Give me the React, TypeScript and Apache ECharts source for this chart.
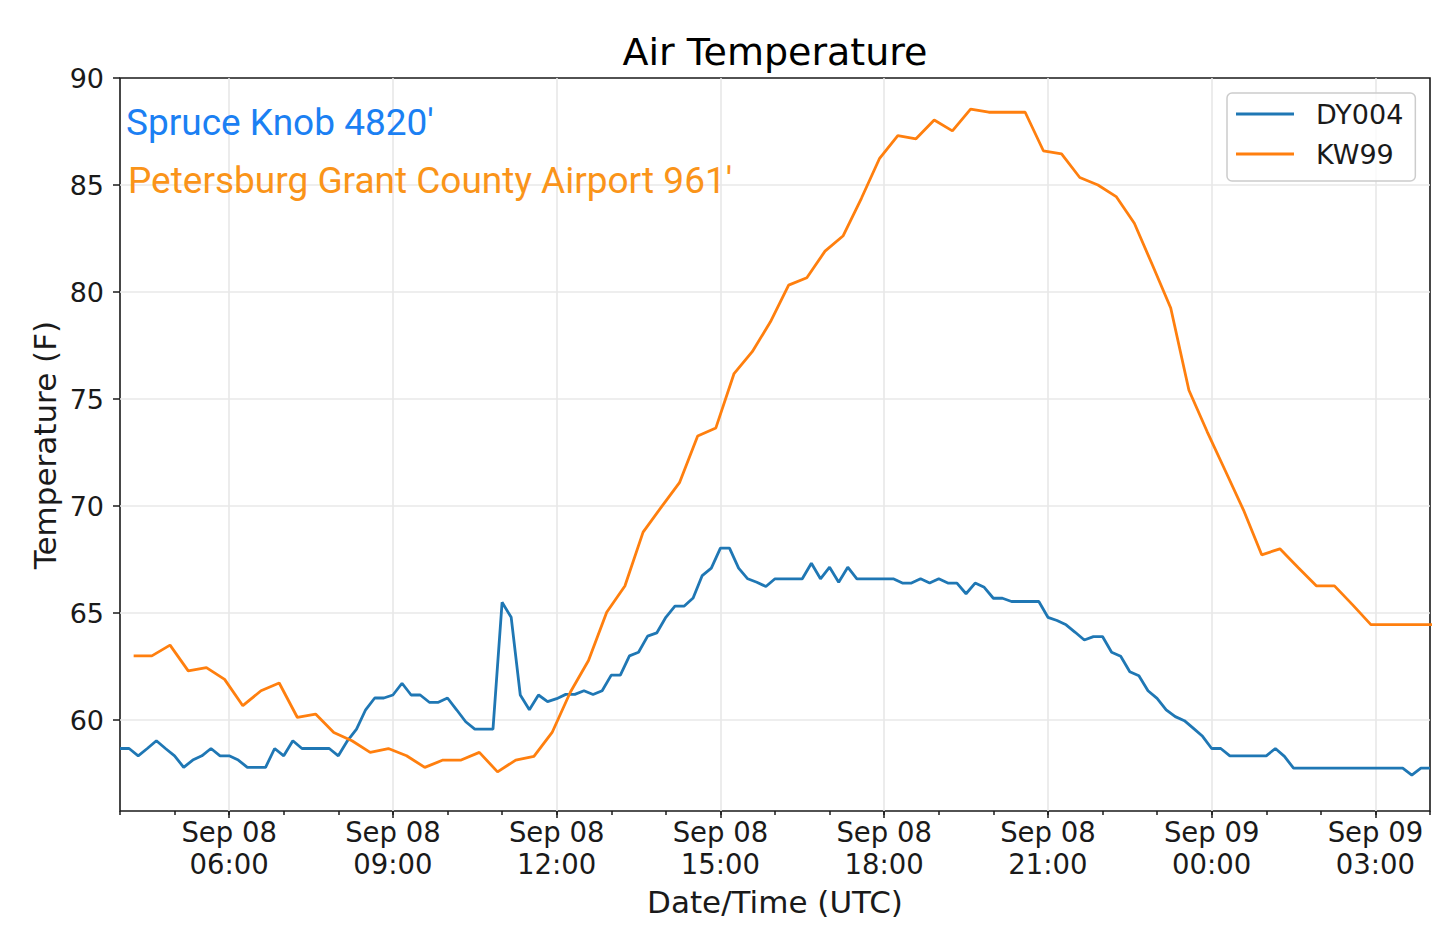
import React, { useEffect, useRef } from "react";
import * as echarts from "echarts";

// time axis is in hours after Sep 08 00:00 UTC
const X_MIN = 4;
const X_MAX = 28;
const Y_MIN = 55.75;
const Y_MAX = 90;

// DY004 (Spruce Knob), one reading every 10 min from Sep 08 04:00
const DY004_START = 4;
const DY004_STEP = 1 / 6;
const DY004_TEMPS = [
  58.67, 58.67, 58.33, 58.67, 59.03, 58.67, 58.33, 57.79, 58.13, 58.33,
  58.67, 58.33, 58.33, 58.13, 57.79, 57.79, 57.79, 58.67, 58.33, 59.03,
  58.67, 58.67, 58.67, 58.67, 58.33, 59.03, 59.58, 60.48, 61.03, 61.03,
  61.17, 61.72, 61.17, 61.17, 60.83, 60.83, 61.03, 60.48, 59.92, 59.58,
  59.58, 59.58, 65.5, 64.8, 61.17, 60.48, 61.17, 60.86, 61.0, 61.2,
  61.2, 61.37, 61.19, 61.37, 62.1, 62.1, 63.0, 63.17, 63.92, 64.07,
  64.8, 65.32, 65.32, 65.7, 66.75, 67.1, 68.03, 68.03, 67.1, 66.6,
  66.44, 66.24, 66.6, 66.6, 66.6, 66.6, 67.33, 66.6, 67.14, 66.44,
  67.14, 66.6, 66.6, 66.6, 66.6, 66.6, 66.4, 66.4, 66.6, 66.4,
  66.6, 66.4, 66.4, 65.9, 66.4, 66.2, 65.69, 65.69, 65.54, 65.54,
  65.54, 65.54, 64.8, 64.65, 64.45, 64.1, 63.74, 63.9, 63.9, 63.17,
  62.98, 62.26, 62.07, 61.37, 61.01, 60.48, 60.16, 59.97, 59.61, 59.24,
  58.67, 58.67, 58.33, 58.33, 58.33, 58.33, 58.33, 58.67, 58.3, 57.75,
  57.75, 57.75, 57.75, 57.75, 57.75, 57.75, 57.75, 57.75, 57.75, 57.75,
  57.75, 57.75, 57.43, 57.75, 57.75,
];

// KW99 (Petersburg airport), one report every 20 min from Sep 08 04:15
const KW99_START = 4.25;
const KW99_STEP = 1 / 3;
const KW99_TEMPS = [
  63.0, 63.0, 63.5, 62.3, 62.45, 61.9, 60.67, 61.37, 61.73, 60.12,
  60.28, 59.42, 59.03, 58.49, 58.67, 58.33, 57.79, 58.13, 58.13, 58.49,
  57.58, 58.13, 58.3, 59.42, 61.3, 62.78, 65.04, 66.26, 68.78, 69.95,
  71.09, 73.27, 73.65, 76.19, 77.21, 78.61, 80.32, 80.67, 81.91, 82.63,
  84.38, 86.25, 87.31, 87.16, 88.04, 87.53, 88.55, 88.4, 88.4, 88.4,
  86.6, 86.45, 85.35, 85.0, 84.46, 83.21, 81.25, 79.25, 75.41, 73.48,
  71.65, 69.81, 67.72, 68.0, 67.13, 66.27, 66.27, 65.38, 64.46, 64.46,
  64.46, 64.46, 64.46,
];

const X_TICKS = [6, 9, 12, 15, 18, 21, 24, 27];
const X_TICK_LABELS = [
  "Sep 08\n06:00", "Sep 08\n09:00", "Sep 08\n12:00", "Sep 08\n15:00",
  "Sep 08\n18:00", "Sep 08\n21:00", "Sep 09\n00:00", "Sep 09\n03:00",
];

const SERIES_NAMES = ["DY004", "KW99"];
const SERIES_COLORS = ["#1f77b4", "#ff7f0e"];

const MPL_FONT = "'DejaVu Sans', sans-serif";
const NOTE_FONT = "Roboto, 'Noto Sans', sans-serif";
const INK = "#1a1a1a";
const GRID_COLOR = "#e8e8e8";

// plot frame in page pixels
const PLOT_L = 120;
const PLOT_T = 78;
const PLOT_W = 1310;
const PLOT_H = 733;

export default function App() {
  const chartRef = useRef<HTMLDivElement>(null);

  useEffect(() => {
    if (!chartRef.current) return;
    const chart = echarts.init(chartRef.current, null, { renderer: "svg" });

    const pxPerHour = PLOT_W / (X_MAX - X_MIN);
    const pxPerDeg = PLOT_H / (Y_MAX - Y_MIN);
    const xMajorMin = X_TICKS[0];
    const xMajorMax = X_TICKS[X_TICKS.length - 1];

    const dyData = DY004_TEMPS.map((v, i) => [DY004_START + i * DY004_STEP, v]);
    const kwData = KW99_TEMPS.map((v, i) => [KW99_START + i * KW99_STEP, v]);

    const tickLine = { color: INK, width: 1.5 };

    chart.setOption({
      animation: false,
      backgroundColor: "#ffffff",
      grid: [
        {
          left: PLOT_L, top: PLOT_T, width: PLOT_W, height: PLOT_H,
          show: true, borderColor: INK, borderWidth: 1.6,
          backgroundColor: "rgba(0,0,0,0)",
        },
        // major x ticks + vertical grid lines
        {
          left: PLOT_L + (xMajorMin - X_MIN) * pxPerHour, top: PLOT_T,
          width: (xMajorMax - xMajorMin) * pxPerHour, height: PLOT_H,
        },
        // y ticks + horizontal grid lines (60..90)
        {
          left: PLOT_L, top: PLOT_T, width: PLOT_W,
          height: (Y_MAX - 60) * pxPerDeg,
        },
      ],
      xAxis: [
        {
          gridIndex: 0, type: "value", min: X_MIN, max: X_MAX, interval: 1,
          axisLine: { show: false },
          axisTick: { show: true, length: 4, lineStyle: tickLine },
          axisLabel: { show: false },
          splitLine: { show: false },
        },
        {
          gridIndex: 1, type: "value", min: xMajorMin, max: xMajorMax, interval: 3,
          axisLine: { show: false },
          axisTick: { show: true, length: 7, lineStyle: tickLine },
          axisLabel: {
            show: true,
            showMinLabel: true,
            showMaxLabel: true,
            formatter: (v: number) => {
              const i = X_TICKS.indexOf(Math.round(v));
              return i >= 0 ? X_TICK_LABELS[i] : "";
            },
            fontFamily: MPL_FONT, fontSize: 27.5, lineHeight: 32,
            color: INK, margin: 5,
          },
          splitLine: { show: true, lineStyle: { color: GRID_COLOR, width: 1.6 } },
        },
        { gridIndex: 2, type: "value", min: 0, max: 1, show: false },
      ],
      yAxis: [
        {
          gridIndex: 0, type: "value", min: Y_MIN, max: Y_MAX,
          axisLine: { show: false }, axisTick: { show: false },
          axisLabel: { show: false }, splitLine: { show: false },
        },
        { gridIndex: 1, type: "value", min: 0, max: 1, show: false },
        {
          gridIndex: 2, type: "value", min: 60, max: Y_MAX, interval: 5,
          axisLine: { show: false },
          axisTick: { show: true, length: 7, lineStyle: tickLine },
          axisLabel: {
            show: true, showMinLabel: true, showMaxLabel: true,
            fontFamily: MPL_FONT, fontSize: 27, color: INK, margin: 16,
          },
          splitLine: {
            show: true, showMaxLine: false,
            lineStyle: { color: GRID_COLOR, width: 1.6 },
          },
        },
      ],
      legend: {
        data: SERIES_NAMES,
        orient: "vertical",
        left: 1227,
        top: 93,
        icon: "rect",
        itemWidth: 58,
        itemHeight: 2.8,
        itemGap: 10,
        padding: [6, 12, 12, 9],
        backgroundColor: "rgba(255,255,255,0.8)",
        borderColor: "#cccccc",
        borderWidth: 1.5,
        borderRadius: 5,
        selectedMode: false,
        textStyle: {
          fontFamily: MPL_FONT, fontSize: 27, color: INK,
          lineHeight: 30, padding: [0, 0, 0, 17],
        },
      },
      series: [
        {
          name: SERIES_NAMES[0], type: "line", data: dyData,
          xAxisIndex: 0, yAxisIndex: 0,
          symbol: "none", showSymbol: false, clip: true,
          color: SERIES_COLORS[0],
          lineStyle: { color: SERIES_COLORS[0], width: 2.8 },
          z: 3,
        },
        {
          name: SERIES_NAMES[1], type: "line", data: kwData,
          xAxisIndex: 0, yAxisIndex: 0,
          symbol: "none", showSymbol: false, clip: true,
          color: SERIES_COLORS[1],
          lineStyle: { color: SERIES_COLORS[1], width: 2.8 },
          z: 4,
        },
      ],
      graphic: [
        {
          type: "text", x: PLOT_L + PLOT_W / 2, y: 52,
          style: {
            text: "Air Temperature", fontFamily: MPL_FONT, fontSize: 38,
            fill: "#000", align: "center", verticalAlign: "middle",
          },
        },
        {
          type: "text", x: PLOT_L + PLOT_W / 2, y: 902,
          style: {
            text: "Date/Time (UTC)", fontFamily: MPL_FONT, fontSize: 31,
            fill: INK, align: "center", verticalAlign: "middle",
          },
        },
        {
          type: "text", x: 45, y: 445, rotation: Math.PI / 2,
          style: {
            text: "Temperature (F)", fontFamily: MPL_FONT, fontSize: 31,
            fill: INK, align: "center", verticalAlign: "middle",
          },
        },
        {
          type: "text", x: 126, y: 122, z: 10,
          style: {
            text: "Spruce Knob 4820'", fontFamily: NOTE_FONT, fontSize: 37,
            fill: "#1b80f3", align: "left", verticalAlign: "middle",
          },
        },
        {
          type: "text", x: 128, y: 180, z: 10,
          style: {
            text: "Petersburg Grant County Airport 961'", fontFamily: NOTE_FONT,
            fontSize: 37, fill: "#fa9419", align: "left", verticalAlign: "middle",
          },
        },
      ],
    });

    return () => chart.dispose();
  }, []);

  return (
    <div
      ref={chartRef}
      style={{ position: "absolute", left: 0, top: 0, width: 1440, height: 943, background: "#fff" }}
    />
  );
}
